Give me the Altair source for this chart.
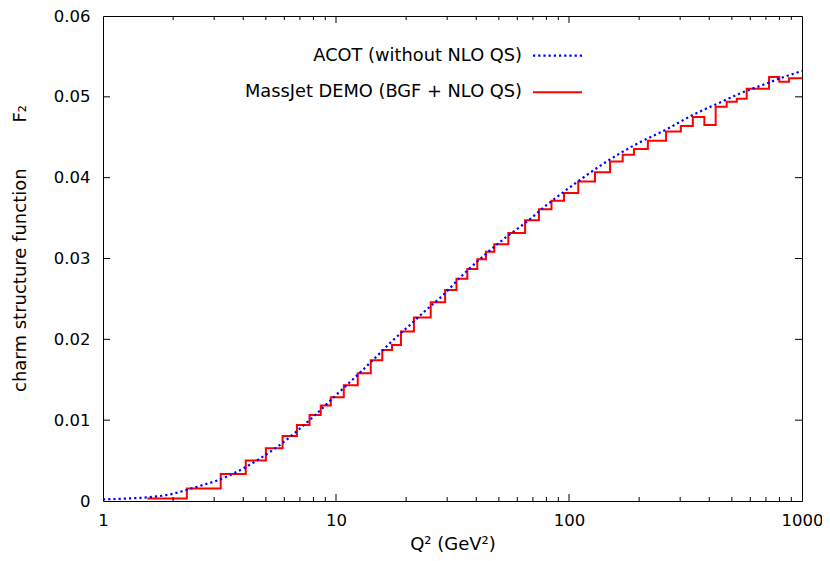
import altair as alt
import pandas as pd

# ---- data ----
# MassJet DEMO step histogram: bin edges in Q^2 (GeV^2) and F2 per bin
massjet_edges = [1.55, 2.29, 3.2, 4.1, 5.0, 5.9, 6.8, 7.7, 8.6, 9.5, 10.8, 12.4, 14.1,
                 15.8, 17.4, 19.0, 21.6, 25.5, 29.4, 32.9, 36.6, 40.4, 44.0, 47.8, 54.9,
                 64.8, 74.3, 84.1, 95.2, 109.6, 129.3, 150, 170, 190, 218, 261, 302, 340,
                 381, 426, 475, 525, 579, 722, 799, 880, 1000]
massjet_f2 = [0.0003, 0.00156, 0.00333, 0.0050, 0.00653, 0.00804, 0.0094, 0.01063,
              0.01182, 0.01284, 0.01432, 0.0158, 0.0174, 0.01868, 0.0193, 0.02097,
              0.0227, 0.0246, 0.0261, 0.02748, 0.0287, 0.0299, 0.03083, 0.03177,
              0.03317, 0.03473, 0.03608, 0.03713, 0.0381, 0.03953, 0.04068, 0.0420,
              0.04282, 0.04356, 0.04458, 0.04572, 0.0464, 0.0475, 0.04652, 0.04877,
              0.04938, 0.04975, 0.05099, 0.05246, 0.05188, 0.0523]

# ACOT smooth curve
acot_q2 = [1, 1.25, 1.55, 2, 2.3, 2.7, 3.2, 4.1, 4.8, 5.6, 6.7, 7.9, 10, 12.8, 15.2, 17,
           21, 24.3, 28.4, 34.8, 42.9, 53.5, 66.9, 80, 91.5, 115, 147, 196, 263, 342,
           445, 551, 682, 845, 1000]
acot_f2 = [0.0002, 0.0003, 0.00045, 0.0009, 0.0014, 0.002, 0.0027, 0.0042, 0.0054,
           0.0067, 0.0085, 0.0103, 0.0131, 0.0160, 0.0181, 0.0195, 0.0219, 0.0236,
           0.0253, 0.0279, 0.0303, 0.0326, 0.0347, 0.0366, 0.0379, 0.0400, 0.0421,
           0.0442, 0.0460, 0.0478, 0.0493, 0.0505, 0.0515, 0.0525, 0.0532]

legend_labels = ["ACOT (without NLO QS)", "MassJet DEMO (BGF + NLO QS)"]

x_major = [1, 10, 100, 1000]
x_inner_major = [10, 100]
x_minor = [2, 3, 4, 5, 6, 7, 8, 9, 20, 30, 40, 50, 60, 70, 80, 90,
           200, 300, 400, 500, 600, 700, 800, 900]
y_major = [0, 0.01, 0.02, 0.03, 0.04, 0.05, 0.06]
y_inner_major = [0.01, 0.02, 0.03, 0.04, 0.05]

# ---- chart ----
FONT = "DejaVu Sans"
FS = 16.5      # tick labels
FT = 18        # titles and key
W, H = 699, 485
NB = "\u00a0"

xscale = alt.Scale(type="log", domain=[1, 1000], nice=False)
yscale = alt.Scale(domain=[0, 0.06], nice=False)

xaxis = alt.Axis(values=x_major, ticks=False, domain=False, grid=False,
                 labelFlush=False, labelOverlap=False, labelPadding=11,
                 labelFont=FONT, labelFontSize=FS, labelColor="black",
                 labelExpr="format(datum.value, 'd')",
                 title="Q² (GeV²)", titleFont=FONT, titleFontSize=FT,
                 titleFontWeight="normal", titleColor="black",
                 titleBaseline="middle", titleY=43)
yaxis = alt.Axis(values=y_major, ticks=False, domain=False, grid=False,
                 labelFlush=False, labelOverlap=False, labelPadding=13,
                 labelFont=FONT, labelFontSize=FS, labelColor="black",
                 labelExpr="datum.value == 0 ? '0' : format(datum.value, '.2f')",
                 title="charm structure function" + NB * 8 + "F₂",
                 titleFont=FONT, titleFontSize=FT, titleFontWeight="normal",
                 titleColor="black", titleBaseline="middle", titleX=-83,
                 titleY=232)


def X(field):
    return alt.X(field, scale=xscale, axis=xaxis)


def Y(field):
    return alt.Y(field, scale=yscale, axis=yaxis)


mj = pd.DataFrame({"q2": massjet_edges, "f2": massjet_f2 + [massjet_f2[-1]]})
ac = pd.DataFrame({"q2": acot_q2, "f2": acot_f2})

red = alt.Chart(mj).mark_line(color="#ff0000", strokeWidth=2, interpolate="step-after").encode(
    x=X("q2:Q"), y=Y("f2:Q"))

blue = alt.Chart(ac).mark_line(color="#0000ff", strokeWidth=2.2, strokeDash=[2.2, 3.0],
                               interpolate="monotone").encode(
    x=X("q2:Q"), y=Y("f2:Q"))

TC = "black"
ydf = pd.DataFrame({"f2": y_inner_major})
xdf = pd.DataFrame({"q2": x_inner_major})
xmdf = pd.DataFrame({"q2": x_minor})

yl = alt.Chart(ydf).mark_rule(color=TC, strokeWidth=1).encode(
    y=Y("f2:Q"), x=alt.value(0), x2=alt.value(7))
yr = alt.Chart(ydf).mark_rule(color=TC, strokeWidth=1).encode(
    y=Y("f2:Q"), x=alt.value(W - 7), x2=alt.value(W))
xb = alt.Chart(xdf).mark_rule(color=TC, strokeWidth=1).encode(
    x=X("q2:Q"), y=alt.value(H - 7), y2=alt.value(H))
xt = alt.Chart(xdf).mark_rule(color=TC, strokeWidth=1).encode(
    x=X("q2:Q"), y=alt.value(0), y2=alt.value(7))
xbm = alt.Chart(xmdf).mark_rule(color=TC, strokeWidth=1).encode(
    x=X("q2:Q"), y=alt.value(H - 4), y2=alt.value(H))
xtm = alt.Chart(xmdf).mark_rule(color=TC, strokeWidth=1).encode(
    x=X("q2:Q"), y=alt.value(0), y2=alt.value(4))

leg = pd.DataFrame({"label": legend_labels})
ROW1, ROW2 = 39.7, 76.3
leg_t1 = alt.Chart(leg.iloc[[0]]).mark_text(align="right", baseline="middle", font=FONT,
                                            fontSize=17.8, color="black").encode(
    text="label:N", x=alt.value(419), y=alt.value(ROW1))
leg_t2 = alt.Chart(leg.iloc[[1]]).mark_text(align="right", baseline="middle", font=FONT,
                                            fontSize=17.8, color="black").encode(
    text="label:N", x=alt.value(419), y=alt.value(ROW2))
leg_l1 = alt.Chart(leg.iloc[[0]]).mark_rule(color="#0000ff", strokeWidth=2.2,
                                            strokeDash=[2.2, 3.0]).encode(
    x=alt.value(430), x2=alt.value(479), y=alt.value(ROW1))
leg_l2 = alt.Chart(leg.iloc[[1]]).mark_rule(color="#ff0000", strokeWidth=2).encode(
    x=alt.value(430), x2=alt.value(479), y=alt.value(ROW2))

chart = alt.layer(red, blue, yl, yr, xb, xt, xbm, xtm, leg_t1, leg_t2, leg_l1, leg_l2).properties(
    width=W, height=H,
    autosize=alt.AutoSizeParams(type="none"),
    padding={"left": 95, "top": 8, "right": 20, "bottom": 52},
).configure_view(stroke="black", strokeWidth=1)

chart.save("out.html", embed_options={"renderer": "svg", "actions": False})
